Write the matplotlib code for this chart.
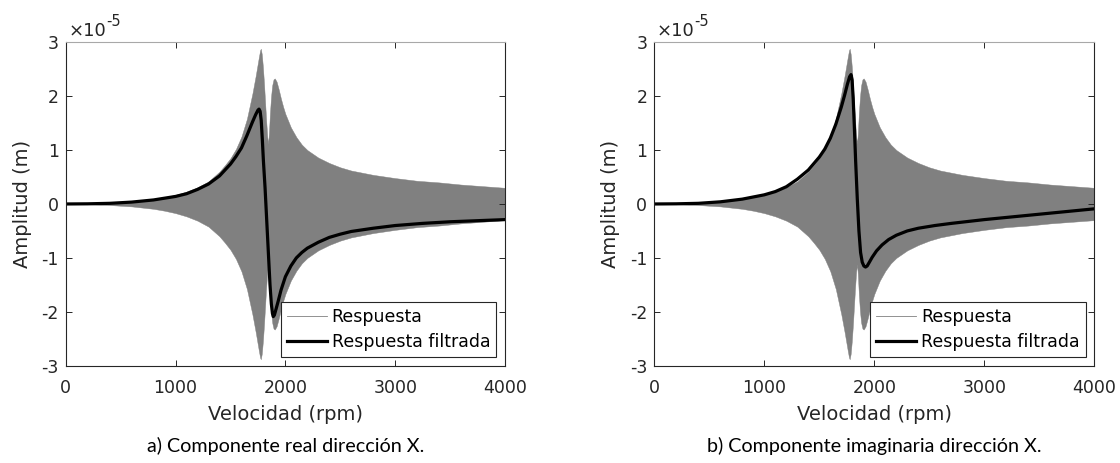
import numpy as np
import matplotlib
matplotlib.use('Agg')
import matplotlib.pyplot as plt
from matplotlib.lines import Line2D

plt.rcParams['font.family'] = ['DejaVu Sans']
plt.rcParams['axes.unicode_minus'] = False

# envelope of the raw response (x1e-5 m), same for both components
rpm_env = [0, 200, 400, 600, 800, 900, 1000, 1100, 1200, 1300, 1400, 1450, 1500, 1550,
           1600, 1650, 1700, 1730, 1750, 1760, 1770, 1776, 1785, 1795, 1805, 1815, 1825,
           1835, 1843, 1850, 1860, 1870, 1880, 1892, 1903, 1920, 1940, 1960, 1980, 2000,
           2050, 2100, 2150, 2200, 2300, 2400, 2500, 2600, 2800, 3000, 3200, 3400, 3600,
           3800, 4000]
amp_env = [0, 0.005, 0.02, 0.045, 0.09, 0.125, 0.17, 0.23, 0.31, 0.42, 0.60, 0.72, 0.85, 1.02,
           1.25, 1.58, 2.05, 2.38, 2.62, 2.74, 2.85, 2.88, 2.78, 2.55, 2.25, 1.90, 1.55,
           1.25, 1.12, 1.30, 1.70, 2.00, 2.20, 2.31, 2.33, 2.27, 2.12, 1.95, 1.80, 1.67,
           1.42, 1.24, 1.10, 1.00, 0.86, 0.76, 0.68, 0.62, 0.54, 0.48, 0.43, 0.40, 0.36,
           0.33, 0.30]

# filtered response, real part
rpm_re = [0, 200, 400, 600, 800, 1000, 1100, 1200, 1300, 1400, 1500, 1550, 1600, 1650,
          1700, 1730, 1750, 1760, 1770, 1780, 1790, 1800, 1815, 1830, 1845, 1860, 1872,
          1882, 1890, 1900, 1915, 1935, 1960, 2000, 2050, 2100, 2150, 2200, 2300, 2400,
          2500, 2600, 2800, 3000, 3250, 3500, 3750, 4000]
resp_re = [0, 0.003, 0.012, 0.035, 0.075, 0.14, 0.19, 0.27, 0.37, 0.52, 0.74, 0.88, 1.04, 1.27,
           1.52, 1.66, 1.74, 1.76, 1.72, 1.55, 1.20, 0.80, 0.30, -0.30, -0.90, -1.50, -1.85,
           -2.03, -2.09, -2.06, -1.95, -1.80, -1.60, -1.35, -1.15, -1.00, -0.90, -0.82, -0.71, -0.62,
           -0.56, -0.51, -0.45, -0.40, -0.36, -0.33, -0.31, -0.29]

# filtered response, imaginary part
rpm_im = [0, 200, 400, 600, 800, 1000, 1100, 1200, 1300, 1400, 1500, 1550, 1600, 1650,
          1700, 1730, 1755, 1775, 1788, 1798, 1808, 1818, 1830, 1845, 1860, 1875, 1890,
          1905, 1920, 1935, 1955, 1980, 2020, 2070, 2130, 2200, 2300, 2400, 2550, 2700,
          3000, 3250, 3500, 3750, 4000]
resp_im = [0, 0.003, 0.012, 0.04, 0.09, 0.17, 0.23, 0.32, 0.46, 0.63, 0.87, 1.02, 1.22, 1.48,
           1.80, 2.02, 2.22, 2.36, 2.40, 2.30, 1.95, 1.45, 0.80, 0.10, -0.50, -0.90, -1.08,
           -1.15, -1.17, -1.15, -1.08, -0.99, -0.87, -0.76, -0.66, -0.58, -0.50, -0.45, -0.40, -0.36,
           -0.29, -0.24, -0.19, -0.14, -0.09]

captions = ['a) Componente real dirección X.', 'b) Componente imaginaria dirección X.']
legend_labels = ['Respuesta', 'Respuesta filtrada']

fig = plt.figure(figsize=(11.2, 4.63), dpi=100)
ax1 = fig.add_axes([0.0587, 0.2102, 0.3922, 0.6985])
ax2 = fig.add_axes([0.5842, 0.2102, 0.3929, 0.6985])

dark = '#262626'
env_x = np.array(rpm_env)
env_a = np.array(amp_env)

for ax, xs, ys, cap in [(ax1, rpm_re, resp_re, captions[0]), (ax2, rpm_im, resp_im, captions[1])]:
    ax.fill_between(env_x, -env_a, env_a, color='#808080', lw=0.3, ec='#808080')
    ax.plot(xs, ys, color='black', lw=2.3, solid_joinstyle='round')
    ax.set_xlim(0, 4000)
    ax.set_ylim(-3, 3)
    ax.set_xticks([0, 1000, 2000, 3000, 4000])
    ax.set_yticks([-3, -2, -1, 0, 1, 2, 3])
    ax.tick_params(direction='in', top=True, right=True, length=4.5, width=0.7,
                   labelsize=12.5, colors=dark)
    ax.tick_params(axis='x', pad=9.5)
    ax.tick_params(axis='y', pad=5)
    for s in ax.spines.values():
        s.set_color(dark)
        s.set_linewidth(0.8)
    ax.spines['top'].set_color('#a8a8a8')
    ax.set_xlabel('Velocidad (rpm)', fontsize=14, color=dark, labelpad=5.5)
    ax.set_ylabel('Amplitud (m)', fontsize=14, color=dark, labelpad=7)
    ax.text(0.006, 1.0195, '×10', transform=ax.transAxes, fontsize=13,
            color=dark, ha='left', va='baseline')
    ax.text(0.0917, 1.0504, '-5', transform=ax.transAxes, fontsize=10.5,
            color=dark, ha='left', va='baseline')

    handles = [Line2D([], [], color='#808080', lw=0.6),
               Line2D([], [], color='black', lw=2.3)]
    leg = ax.legend(handles, legend_labels, loc='lower right',
                    bbox_to_anchor=(0.98, 0.027), borderaxespad=0, fontsize=12.5,
                    frameon=True, fancybox=False, framealpha=1, edgecolor=dark,
                    handlelength=2.3, handletextpad=0.29, labelspacing=0.4,
                    borderpad=0.34)
    leg.get_frame().set_linewidth(0.8)
    for t in leg.get_texts():
        t.set_color('black')

    pos = ax.get_position()
    fig.text((pos.x0 + pos.x1) / 2, 0.037, cap, ha='center', va='center',
             fontsize=14.2, family=['Lato', 'DejaVu Sans'], color='black')

fig.savefig('out.png', dpi=100)
